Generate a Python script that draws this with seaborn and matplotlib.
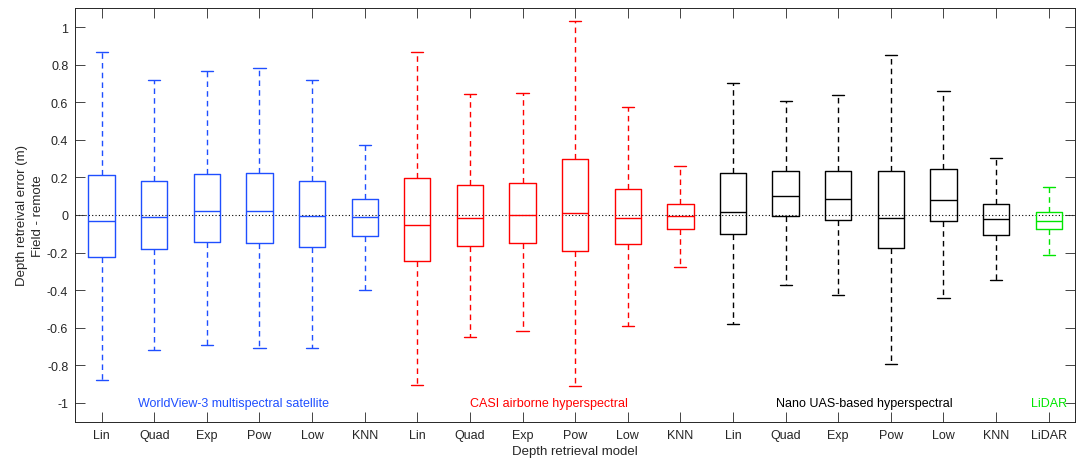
import numpy as np
import pandas as pd
import matplotlib
matplotlib.use("Agg")
import matplotlib.pyplot as plt
import seaborn as sns

# ---------------- data ----------------
models = ["Lin", "Quad", "Exp", "Pow", "Low", "KNN"]
lidar_models = ["LiDAR"]
group_names = ["WorldView-3 multispectral satellite", "CASI airborne hyperspectral",
               "Nano UAS-based hyperspectral", "LiDAR"]
group_colors = ["#1f4fff", "#ff0000", "#000000", "#00e600"]

# whisker low, Q1, median, Q3, whisker high per model
wv_low = [-0.876, -0.720, -0.693, -0.706, -0.707, -0.401]
wv_q1 = [-0.223, -0.179, -0.145, -0.147, -0.172, -0.110]
wv_med = [-0.032, -0.009, 0.019, 0.021, -0.007, -0.012]
wv_q3 = [0.215, 0.181, 0.218, 0.225, 0.183, 0.083]
wv_high = [0.869, 0.720, 0.766, 0.782, 0.718, 0.374]

casi_low = [-0.904, -0.651, -0.617, -0.911, -0.590, -0.278]
casi_q1 = [-0.245, -0.165, -0.147, -0.190, -0.153, -0.076]
casi_med = [-0.053, -0.018, 0.000, 0.011, -0.014, -0.005]
casi_q3 = [0.199, 0.158, 0.172, 0.298, 0.138, 0.057]
casi_high = [0.867, 0.642, 0.651, 1.034, 0.574, 0.261]

nano_low = [-0.580, -0.371, -0.426, -0.791, -0.443, -0.346]
nano_q1 = [-0.099, -0.005, -0.027, -0.177, -0.030, -0.105]
nano_med = [0.018, 0.099, 0.083, -0.018, 0.081, -0.020]
nano_q3 = [0.222, 0.236, 0.236, 0.232, 0.246, 0.057]
nano_high = [0.705, 0.605, 0.638, 0.851, 0.660, 0.301]

lidar_low = [-0.213]
lidar_q1 = [-0.076]
lidar_med = [-0.032]
lidar_q3 = [0.014]
lidar_high = [0.151]

ytick_values = [-1, -0.8, -0.6, -0.4, -0.2, 0, 0.2, 0.4, 0.6, 0.8, 1]
ytick_labels = ["-1", "-0.8", "-0.6", "-0.4", "-0.2", "0", "0.2", "0.4", "0.6", "0.8", "1"]

# ---------------- build long table ----------------
groups = [
    (group_names[0], models, wv_low, wv_q1, wv_med, wv_q3, wv_high),
    (group_names[1], models, casi_low, casi_q1, casi_med, casi_q3, casi_high),
    (group_names[2], models, nano_low, nano_q1, nano_med, nano_q3, nano_high),
    (group_names[3], lidar_models, lidar_low, lidar_q1, lidar_med, lidar_q3, lidar_high),
]
rows = []
xlabels = []
pos = 0
for gname, mlist, lo, q1, me, q3, hi in groups:
    for k, m in enumerate(mlist):
        for v in (lo[k], q1[k], me[k], q3[k], hi[k]):
            rows.append({"pos": pos, "group": gname, "err": v})
        xlabels.append(m)
        pos += 1
df = pd.DataFrame(rows)

# ---------------- plot ----------------
sns.set_style("ticks")
plt.rcParams["font.family"] = ["Liberation Sans", "DejaVu Sans"]
axcol = "#262626"

fig = plt.figure(figsize=(10.84, 4.6), dpi=100)
ax = fig.add_axes([75.3 / 1084, 1 - 422.7 / 460, (1075 - 75.3) / 1084, (422.7 - 9.3) / 460])

ax.axhline(0, color="black", linestyle=(0, (1, 2)), linewidth=0.8, zorder=0)

sns.boxplot(data=df, x="pos", y="err", hue="group", hue_order=group_names,
            palette=dict(zip(group_names, group_colors)), dodge=False,
            fill=False, width=0.5, whis=(0, 100), linewidth=1.0, saturation=1,
            legend=False, ax=ax,
            whiskerprops=dict(linestyle=(0, (4, 3))),
            capwidths=0.23)

ax.set_xlim(-0.5, len(xlabels) - 0.5)
ax.set_ylim(-1.1, 1.1)
ax.set_xticks(range(len(xlabels)))
ax.set_xticklabels(xlabels)
ax.set_yticks(ytick_values)
ax.set_yticklabels(ytick_labels)

label_x = [2.5, 8.5, 14.5, 18]
for gname, gcol, lx in zip(group_names, group_colors, label_x):
    ax.text(lx, -1.0, gname, color=gcol, ha="center", va="center", fontsize=9)

ax.set_xlabel("Depth retrieval model", fontsize=9.5, color=axcol, labelpad=3)
ax.set_ylabel("Depth retreival error (m)\nField - remote", fontsize=9.5, color=axcol)
ax.yaxis.label.set_linespacing(1.5)
ax.yaxis.set_label_coords(-0.031, 0.5)

ax.tick_params(axis="both", direction="in", length=7, width=0.6, colors=axcol,
               labelsize=9, top=True, right=True, pad=5)
for s in ax.spines.values():
    s.set_visible(True)
    s.set_color(axcol)
    s.set_linewidth(0.7)

fig.savefig("out.png", dpi=100)
